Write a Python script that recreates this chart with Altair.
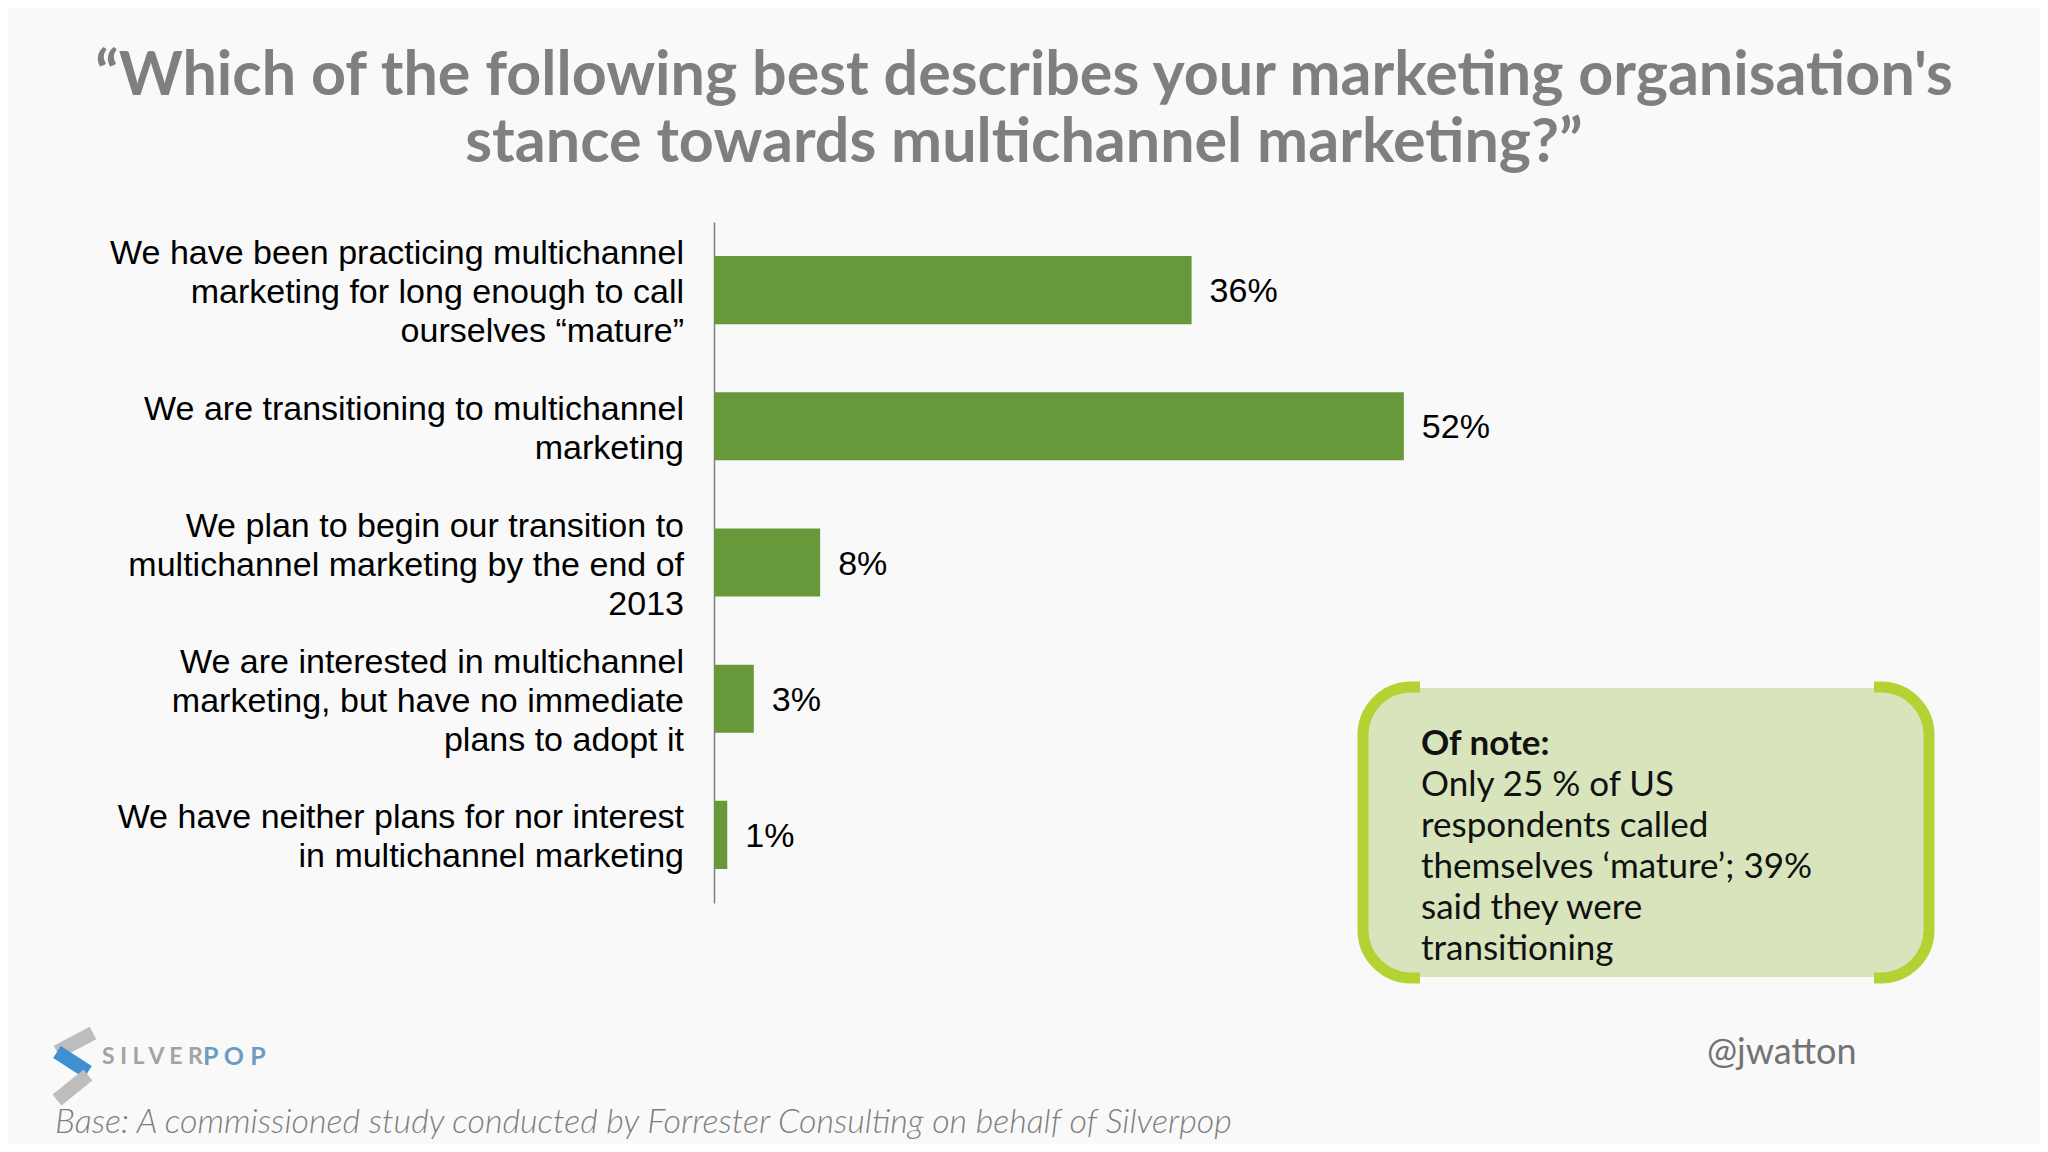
import altair as alt
import pandas as pd

# ---------------- data ----------------
categories = [
    "We have been practicing multichannel|marketing for long enough to call|ourselves “mature”",
    "We are transitioning to multichannel|marketing",
    "We plan to begin our transition to|multichannel marketing by the end of|2013",
    "We are interested in multichannel|marketing, but have no  immediate|plans to adopt it",
    "We have neither plans for nor interest|in multichannel marketing",
]
values = [36, 52, 8, 3, 1]
value_labels = ["36%", "52%", "8%", "3%", "1%"]

title_lines = [
    "“Which of the following best describes your marketing organisation's",
    "stance towards multichannel marketing?”",
]
note_heading = "Of note:"
note_lines = [
    "Only 25 % of US",
    "respondents called",
    "themselves ‘mature’; 39%",
    "said they were",
    "transitioning",
]
footer_text = "Base: A commissioned study conducted by Forrester Consulting on behalf of Silverpop"
handle_text = "@jwatton"
logo_left = "S I L V E R"
logo_right = "P O P"

# ---------------- layout ----------------
W, H = 796, 681
BG = "#f9f9f9"
GREEN = "#67993a"
NOTE_FILL = "#d8e4bc"
NOTE_STROKE = "#b3d234"
LABEL_LH = 39

df = pd.DataFrame({"category": categories, "value": values, "label": value_labels})
df["nlines"] = df["category"].str.count(r"\|") + 1

y_enc = alt.Y(
    "category:N",
    sort=categories,
    scale=alt.Scale(paddingInner=0.5, paddingOuter=0.25),
    axis=alt.Axis(
        title=None, ticks=False, grid=False, labels=False,
        domainColor="#7f7f7f", domainWidth=1.5,
    ),
)
x_enc = alt.X("value:Q", scale=alt.Scale(domain=[0, 60]), axis=None)

bars = alt.Chart(df).mark_bar(color=GREEN).encode(x=x_enc, y=y_enc)
vals = alt.Chart(df).mark_text(
    align="left", baseline="middle", dx=18, dy=2,
    font="Liberation Sans", fontSize=34, color="#000000",
).encode(x=x_enc, y=y_enc, text="label:N")

# category labels, centred on their bar (block shifted up by half its extra lines)
label_layers = []
for n in sorted(df["nlines"].unique()):
    label_layers.append(
        alt.Chart(df).transform_filter(alt.datum.nlines == int(n)).mark_text(
            align="right", baseline="middle", lineBreak="|", lineHeight=LABEL_LH,
            dy=-(int(n) - 1) * LABEL_LH / 2 + 3,
            font="Liberation Sans", fontSize=34, color="#000000",
        ).encode(x=alt.value(-30), y=y_enc, text="category:N")
    )

one = pd.DataFrame({"k": [0]})

def txt(text, x, y, **kw):
    d = pd.DataFrame({"t": [text]})
    return alt.Chart(d).mark_text(lineBreak="\n", **kw).encode(
        x=alt.value(x), y=alt.value(y), text="t:N")

def rect(x, x2, y, y2, **kw):
    return alt.Chart(one).mark_rect(**kw).encode(
        x=alt.value(x), x2=alt.value(x2), y=alt.value(y), y2=alt.value(y2))

def rule(x, y, x2, y2, **kw):
    return alt.Chart(one).mark_rule(**kw).encode(
        x=alt.value(x), x2=alt.value(x2), y=alt.value(y), y2=alt.value(y2))

title = txt("\n".join(title_lines), 310, -145, align="center", baseline="middle",
            font="Lato", fontWeight="bold", fontSize=61, lineHeight=67, color="#7f7f7f")

# note box
box = rect(649, 1215, 465, 756, fill=NOTE_FILL, stroke=NOTE_STROKE, strokeWidth=11, cornerRadius=48)
cov1 = rect(706, 1160, 456, 466, fill=BG)
cov2 = rect(706, 1160, 466, 473, fill=NOTE_FILL)
cov3 = rect(706, 1160, 748, 755, fill=NOTE_FILL)
cov4 = rect(706, 1160, 755, 765, fill=BG)
note_h = txt(note_heading, 707, 522, align="left", baseline="middle",
             font="Lato", fontWeight="bold", fontSize=35, color="#111111")
note_b = txt("\n".join(note_lines), 707, 563, align="left", baseline="middle",
             font="Lato", fontSize=35, lineHeight=41, color="#111111")

# footer
footer = txt(footer_text, -659, 901, align="left", baseline="middle",
             font="Lato", fontStyle="italic", fontWeight=300, fontSize=34, color="#7f7f7f")
handle = txt(handle_text, 993, 831, align="left", baseline="middle",
             font="Lato", fontSize=36, color="#737373")

# logo
logo1 = rule(-621, 811, -657, 830, color="#bdbdbd", strokeWidth=14, strokeCap="butt")
logo2 = rule(-657, 830, -626, 850, color="#3f8fd2", strokeWidth=14, strokeCap="butt")
logo3 = rule(-626, 853, -657, 878, color="#bdbdbd", strokeWidth=14, strokeCap="butt")
logo_t1 = txt(logo_left, -612, 835, align="left", baseline="middle",
              font="Lato", fontWeight="bold", fontSize=23, color="#a3a3a3")
logo_t2 = txt(logo_right, -511, 835, align="left", baseline="middle",
              font="Lato", fontWeight="bold", fontSize=25, color="#6d9cc2")

chart = alt.layer(
    bars, vals, *label_layers, title, box, cov1, cov2, cov3, cov4, note_h, note_b,
    footer, handle, logo1, logo2, logo3, logo_t1, logo_t2,
).properties(
    width=W, height=H,
    autosize=alt.AutoSizeParams(type="none"),
    padding={"left": 706, "top": 214, "right": 530, "bottom": 241},
    background=BG,
).configure_view(stroke=None)

chart.save("out.html", embed_options={"renderer": "svg", "actions": False})
